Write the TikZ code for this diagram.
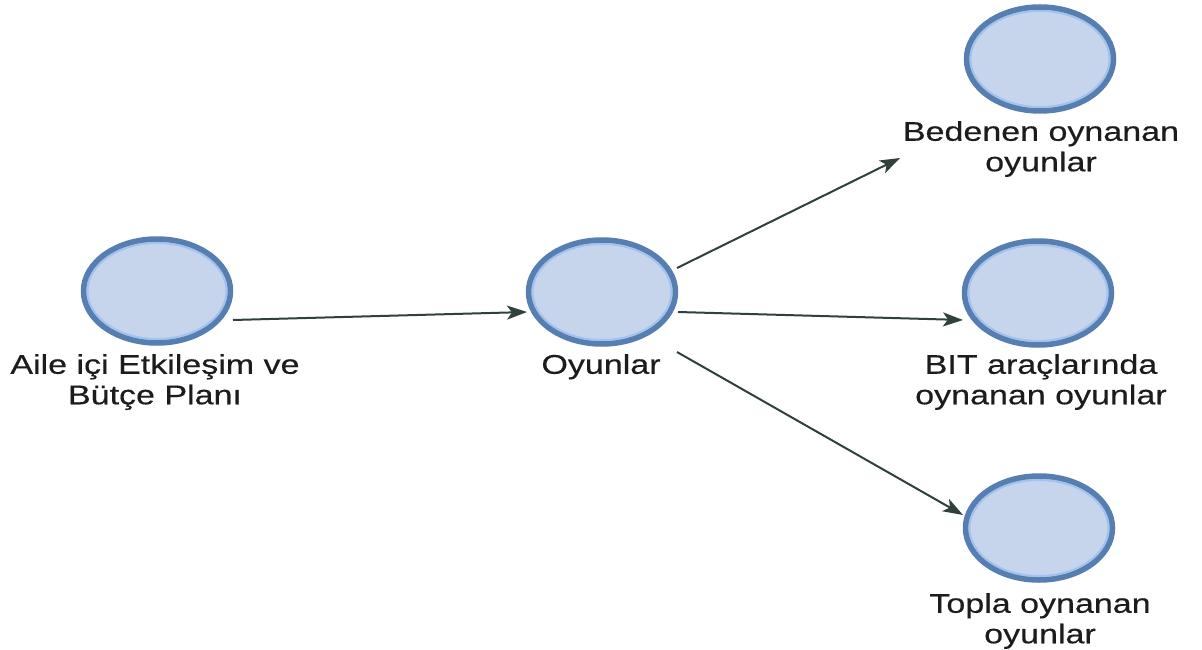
\documentclass[tikz,border=0pt]{standalone}
\usepackage{fontspec}
\setmainfont[FakeStretch=1.26,FakeBold=0.4]{Liberation Sans}
\usetikzlibrary{shapes.geometric,arrows.meta,calc}
\definecolor{nodefill}{RGB}{198,213,235}
\definecolor{nodedraw}{RGB}{86,126,176}
\definecolor{noderim}{RGB}{160,195,240}
\definecolor{arrowcol}{RGB}{48,64,60}
\definecolor{textcol}{RGB}{28,28,28}
\tikzset{
  topic/.style={ellipse, minimum width=147pt, minimum height=104pt, inner sep=0pt,
    fill=nodefill, draw=nodedraw, line width=5.5pt,
    path picture={\draw[noderim, line width=2pt] (path picture bounding box.center) ellipse [x radius=69.5pt, y radius=48pt];}},
  caption/.style={anchor=north, inner sep=0pt, align=center, text=textcol,
    font=\fontsize{27}{30.5}\selectfont},
  link/.style={draw=arrowcol, line width=2pt, -{Stealth[length=20pt, width=14pt, inset=5pt]}}
}
\begin{document}
\begin{tikzpicture}[x=1pt, y=-1pt]
\useasboundingbox (0,0) rectangle (1202,650);
\node[topic] (a) at (157,291) {};
\node[topic] (o) at (602,292) {};
\node[topic] (b) at (1040,59) {};
\node[topic] (c) at (1038,293) {};
\node[topic] (d) at (1039,528) {};
\node[caption] (al) at (155,354) {Aile içi Etkileşim ve\\Bütçe Planı};
\node[caption] (ol) at (601,354) {Oyunlar};
\node[caption] (bl) at (1041,121) {Bedenen oynanan\\oyunlar};
\node[caption] (cl) at (1041,354) {BIT araçlarında\\oynanan oyunlar};
\node[caption] (dl) at (1040,593) {Topla oynanan\\oyunlar};
\draw[link] ($(a.center)+(76,29)$) -- ($(o.center)+(-75,20)$);
\draw[link] ($(o.center)+(75,-24)$) -- ($(b.center)+(-140,99)$);
\draw[link] ($(o.center)+(76,20)$) -- ($(c.center)+(-75,27)$);
\draw[link] ($(o.center)+(75,60)$) -- ($(d.center)+(-76,-13)$);
\end{tikzpicture}
\end{document}
